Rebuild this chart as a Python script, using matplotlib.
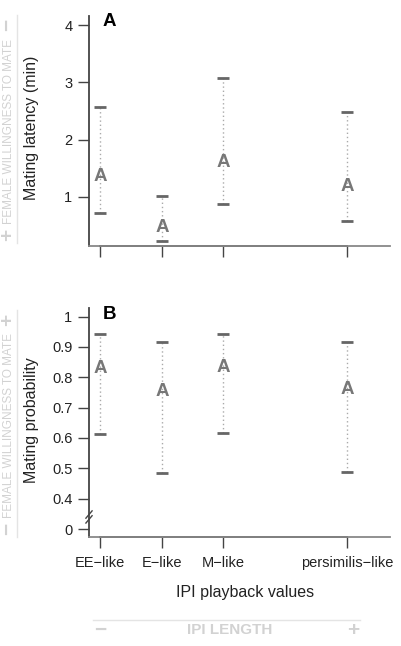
import numpy as np
import matplotlib.pyplot as plt
from matplotlib.lines import Line2D

plt.rcParams['font.family'] = ['Liberation Sans', 'DejaVu Sans']

# data
groups = ['EE\u2212like', 'E\u2212like', 'M\u2212like', 'persimilis\u2212like']
xpos = [1, 2, 3, 5]
lat_mid = [1.35, 0.46, 1.61, 1.18]
lat_lo = [0.72, 0.23, 0.88, 0.58]
lat_hi = [2.57, 1.02, 3.08, 2.48]
prob_mid = [0.83, 0.753, 0.832, 0.761]
prob_lo = [0.613, 0.484, 0.618, 0.487]
prob_hi = [0.942, 0.915, 0.942, 0.916]

W, H = 402, 646
fig = plt.figure(figsize=(W / 100, H / 100), dpi=100)


def px(x, y):
    return x / W, 1 - y / H


def make_ax(top, bottom):
    l, b = px(89, bottom)
    r, t = px(390, top)
    ax = fig.add_axes([l, b, r - l, t - b])
    for s in ['top', 'right']:
        ax.spines[s].set_visible(False)
    ax.spines['left'].set_color('#444444')
    ax.spines['bottom'].set_color('#888888')
    ax.spines['left'].set_linewidth(1.3)
    ax.spines['bottom'].set_linewidth(1.3)
    ax.tick_params(length=8, width=1, color='#444444', labelsize=10.5,
                   labelcolor='#222222')
    ax.tick_params(axis='x', pad=6)
    ax.tick_params(axis='y', pad=4)
    ax.set_xlim(0.82, 5.7)
    ax.set_xticks(xpos)
    return ax


def draw(ax, mid, lo, hi):
    for x, m, a, b in zip(xpos, mid, lo, hi):
        ax.plot([x, x], [a, b], ls=(0, (1, 2)), color='#aaaaaa', lw=1)
        ax.plot([x, x], [a, b], ls='none', marker='_', ms=8, mew=2,
                color='#666666')
        ax.text(x, m, 'A', ha='center', va='center', fontsize=13.5,
                fontweight='bold', color='#777777')
    y0 = ax.get_ylim()[0]
    ax.plot([1, 5], [y0, y0], color='#333333', lw=1.3, clip_on=False)


# panel A
ax1 = make_ax(16, 246)
ax1.set_ylim(0.145, 4.157)
ax1.set_yticks([1, 2, 3, 4])
ax1.set_xticklabels([])
draw(ax1, lat_mid, lat_lo, lat_hi)
ax1.text(0.045, 0.975, 'A', transform=ax1.transAxes, fontsize=13.5,
         fontweight='bold', va='center', ha='left')

# panel B (broken axis: 0 drawn at 0.3)
ax2 = make_ax(308, 537)
ax2.set_ylim(0.274, 1.028)
ax2.set_yticks([0.3, 0.4, 0.5, 0.6, 0.7, 0.8, 0.9, 1.0])
ax2.set_yticklabels(['0', '0.4', '0.5', '0.6', '0.7', '0.8', '0.9', '1'])
ax2.set_xticklabels(groups)
draw(ax2, prob_mid, prob_lo, prob_hi)
ax2.text(0.045, 0.97, 'B', transform=ax2.transAxes, fontsize=13.5,
         fontweight='bold', va='center', ha='left')
# break marks
xl = ax2.get_xlim()[0]
ax2.plot([xl, xl], [0.328, 0.352], color='white', lw=3, clip_on=False)
for yb in [0.332, 0.348]:
    ax2.plot([xl - 0.05, xl + 0.05], [yb - 0.012, yb + 0.012],
             color='#444444', lw=1, clip_on=False)

# axis titles
fig.text(*px(32, 128), 'Mating latency (min)', rotation=90, ha='center',
         va='center', fontsize=11.5, color='#222222')
fig.text(*px(32, 420), 'Mating probability', rotation=90, ha='center',
         va='center', fontsize=11.5, color='#222222')
fig.text(*px(245, 592), 'IPI playback values', ha='center', va='center',
         fontsize=11.5, color='#222222')

# light guide annotations
light = '#d2d2d2'
for (y_top, y_bot, sym_top, sym_bot) in [(15, 243, '\u2212', '+'),
                                         (310, 537, '+', '\u2212')]:
    fig.add_artist(Line2D([17 / W, 17 / W], [1 - y_top / H, 1 - y_bot / H],
                          color='#e4e4e4', lw=1))
    fig.text(*px(9.5, (y_top + y_bot) / 2 + 2), 'FEMALE WILLINGNESS TO MATE',
             rotation=90, ha='center', va='center', fontsize=8.5,
             color=light)
    fig.text(*px(8, y_top + 10), sym_top, rotation=90, ha='center',
             va='center', fontsize=15, fontweight='bold', color=light)
    fig.text(*px(8, y_bot - 8), sym_bot, rotation=90, ha='center',
             va='center', fontsize=15, fontweight='bold', color=light)

fig.add_artist(Line2D([93 / W, 360 / W], [1 - 620 / H, 1 - 620 / H],
                      color='#e4e4e4', lw=1))
fig.text(*px(230, 630), 'IPI LENGTH', ha='center', va='center', fontsize=11,
         fontweight='bold', color=light)
fig.text(*px(100, 630), '\u2212', ha='center', va='center', fontsize=15,
         fontweight='bold', color=light)
fig.text(*px(353, 630), '+', ha='center', va='center', fontsize=15,
         fontweight='bold', color=light)

fig.savefig('out.png', dpi=100)
